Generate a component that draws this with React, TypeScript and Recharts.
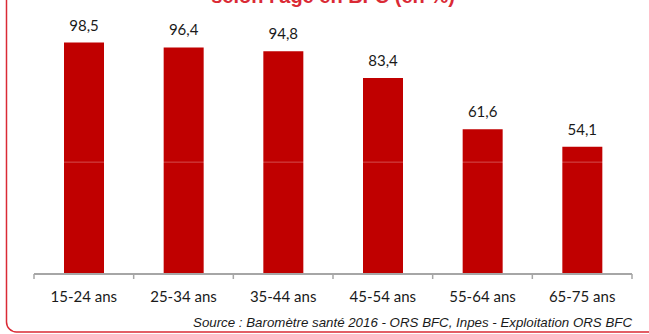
import React from 'react';
import { BarChart, Bar, XAxis, YAxis, LabelList, ReferenceLine } from 'recharts';

// Part de la population par tranche d'âge (en %)
const ageGroups = ['15-24 ans', '25-34 ans', '35-44 ans', '45-54 ans', '55-64 ans', '65-75 ans'];
const shares = [98.5, 96.4, 94.8, 83.4, 61.6, 54.1];
const guideValue = 47.6;

const title = "selon l'âge en BFC (en %)";
const source = 'Source : Baromètre santé 2016 - ORS BFC, Inpes - Exploitation ORS BFC';

const WIDTH = 649;
const HEIGHT = 334;
const MARGIN = { top: 39, right: 17, left: 34, bottom: 0 };
const AXIS_HEIGHT = 60;
const BAND = (WIDTH - MARGIN.left - MARGIN.right) / ageGroups.length;

const BAR_COLOR = '#C00000';
const AXIS_COLOR = '#A6A6A6';
const TEXT_COLOR = '#1a1a1a';
const FRAME_COLOR = '#DA2A35';
const FONT = 'Lato, sans-serif';

const data = ageGroups.map((age, i) => ({ age, value: shares[i] }));

const fmt = (v: any) => String(v).replace('.', ',');

// ticks sit on the band edges, labels in the middle
function AgeTick(props: any) {
    const { x, y, payload, index } = props;
    const isLast = index === ageGroups.length - 1;
    return (
        <g>
            <line x1={x - BAND / 2} x2={x - BAND / 2} y1={y} y2={y + 5} stroke={AXIS_COLOR} strokeWidth={1.5} />
            {isLast && (
                <line x1={x + BAND / 2} x2={x + BAND / 2} y1={y} y2={y + 5} stroke={AXIS_COLOR} strokeWidth={1.5} />
            )}
            <text x={x} y={y + 28} textAnchor="middle" fill={TEXT_COLOR} fontSize={15} fontFamily={FONT}>
                {payload.value}
            </text>
        </g>
    );
}

export default function App() {
    return (
        <div style={{ position: 'absolute', left: 0, top: 0, width: WIDTH, height: HEIGHT, background: '#fff', overflow: 'hidden' }}>
            <BarChart width={WIDTH} height={HEIGHT} data={data} margin={MARGIN}>
                <XAxis
                    dataKey="age"
                    height={AXIS_HEIGHT}
                    axisLine={{ stroke: AXIS_COLOR, strokeWidth: 2 }}
                    tickLine={false}
                    tickSize={0}
                    tickMargin={0}
                    interval={0}
                    tick={<AgeTick />}
                />
                <YAxis hide domain={[0, 100]} />
                <Bar dataKey="value" fill={BAR_COLOR} barSize={40} isAnimationActive={false}>
                    <LabelList
                        dataKey="value"
                        position="top"
                        offset={12}
                        formatter={fmt}
                        fill={TEXT_COLOR}
                        fontSize={15}
                        fontFamily={FONT}
                    />
                </Bar>
                <ReferenceLine y={guideValue} stroke="#ffffff" strokeOpacity={0.3} strokeWidth={1} />
            </BarChart>
            <svg width={WIDTH} height={HEIGHT} style={{ position: 'absolute', left: 0, top: 0, pointerEvents: 'none' }}>
                <rect x={6.5} y={-40} width={720} height={372} rx={10} fill="none" stroke={FRAME_COLOR} strokeWidth={1.5} />
                <text x={333} y={3} textAnchor="middle" fill={FRAME_COLOR} fontSize={20} fontWeight="bold" fontFamily="'Liberation Sans', Arial, sans-serif">
                    {title}
                </text>
                <text x={632} y={327} textAnchor="end" fill={TEXT_COLOR} fontSize={13.3} fontStyle="italic" fontFamily="'Liberation Sans', Arial, sans-serif">
                    {source}
                </text>
            </svg>
        </div>
    );
}
